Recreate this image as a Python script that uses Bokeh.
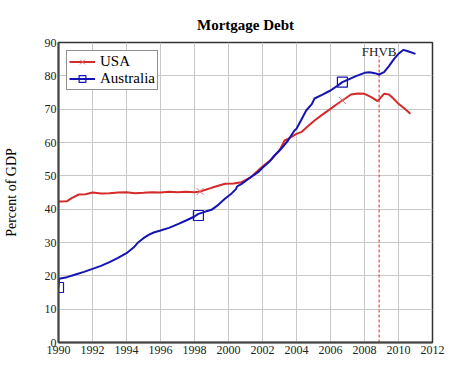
from bokeh.plotting import figure
from bokeh.models import Legend, LegendItem, Label, FixedTicker, Range1d
from bokeh.embed import file_html
from bokeh.resources import INLINE

# ---- data ----
aus_year = [1990.0, 1990.03, 1990.5, 1991.0, 1991.5, 1992.0, 1992.5, 1993.0, 1993.5,
            1994.0, 1994.4, 1994.7, 1995.0, 1995.3, 1995.6, 1996.0, 1996.5, 1997.06,
            1997.5, 1998.0, 1998.23, 1998.6, 1999.0, 1999.4, 1999.79, 2000.2, 2000.45,
            2000.5, 2000.77, 2001.2, 2001.74, 2002.0, 2002.4, 2002.7, 2003.1, 2003.5,
            2003.88, 2004.0, 2004.3, 2004.57, 2004.9, 2005.06, 2005.5, 2006.0, 2006.4,
            2006.7, 2007.0, 2007.5, 2008.0, 2008.3, 2008.6, 2008.86, 2009.15, 2009.45,
            2009.74, 2010.0, 2010.3, 2010.6, 2011.0]
aus_val = [16.5, 19.1, 19.6, 20.4, 21.2, 22.1, 23.0, 24.1, 25.4,
           26.8, 28.4, 30.1, 31.3, 32.3, 33.0, 33.6, 34.4, 35.6,
           36.6, 37.8, 38.6, 39.2, 39.8, 41.3, 43.1, 44.8, 46.1,
           46.8, 47.6, 49.2, 51.1, 52.4, 54.2, 56.1, 58.1, 60.6,
           63.6, 64.1, 67.0, 69.6, 71.5, 73.2, 74.3, 75.6, 77.0,
           78.1, 78.8, 79.9, 80.9, 81.1, 80.8, 80.4, 81.1, 83.0,
           85.1, 86.6, 87.8, 87.3, 86.6]

usa_year = [1990.0, 1990.5, 1990.8, 1991.2, 1991.6, 1992.0, 1992.5, 1993.0, 1993.5,
            1994.0, 1994.5, 1995.0, 1995.5, 1996.0, 1996.5, 1997.0, 1997.5, 1998.0,
            1998.33, 1999.0, 1999.8, 2000.3, 2000.77, 2001.3, 2001.74, 2002.0, 2002.5,
            2003.0, 2003.3, 2003.5, 2004.0, 2004.28, 2004.6, 2005.06, 2005.5, 2006.0,
            2006.35, 2006.7, 2007.2, 2007.6, 2008.0, 2008.4, 2008.77, 2009.15, 2009.44,
            2009.7, 2010.0, 2010.35, 2010.7]
usa_val = [42.3, 42.4, 43.4, 44.4, 44.5, 45.0, 44.7, 44.8, 45.0,
           45.1, 44.8, 44.9, 45.1, 45.0, 45.2, 45.1, 45.2, 45.1,
           45.3, 46.4, 47.6, 47.7, 48.1, 49.5, 51.6, 52.8, 54.8,
           57.6, 60.6, 61.1, 62.6, 63.1, 64.6, 66.6, 68.3, 70.1,
           71.4, 72.6, 74.4, 74.7, 74.6, 73.6, 72.4, 74.6, 74.4,
           73.2, 71.6, 70.2, 68.6]

usa_mark_year = [1998.33, 2006.7]
usa_mark_val = [45.3, 72.6]
aus_mark_year = [1990.0, 1998.23, 2006.7]
aus_mark_val = [16.5, 38.1, 78.1]

x_ticks = list(range(1990, 2013, 2))
y_ticks = list(range(0, 91, 10))

event_year = [2008.86]
event_label = "FHVB"
event_top = [86]

title_text = "Mortgage Debt"
y_label = "Percent of GDP"
series_names = ["USA", "Australia"]

RED = "#d42a2a"
BLUE = "#1414b4"
SERIF = "Liberation Serif"

p = figure(width=448, height=376, output_backend="svg", toolbar_location=None,
           x_range=Range1d(1990, 2012), y_range=Range1d(0, 90),
           min_border_left=56, min_border_right=16, min_border_top=42,
           min_border_bottom=34)

p.title.text = title_text
p.title.align = "center"
p.title.text_font = SERIF
p.title.text_font_size = "15px"
p.title.text_font_style = "bold"
p.title.text_color = "black"
p.title.standoff = 20

p.outline_line_color = "#333333"
p.outline_line_width = 1.5
p.background_fill_color = "white"
p.border_fill_color = "white"

for ax in (p.xaxis[0], p.yaxis[0]):
    ax.major_tick_out = 0
    ax.major_tick_in = 0
    ax.minor_tick_out = 0
    ax.minor_tick_in = 0
    ax.axis_line_color = "#444444"
    ax.axis_line_width = 2
    ax.major_label_text_font = SERIF
    ax.major_label_text_font_size = "12px"
    ax.major_label_text_color = "#222222"

p.xaxis[0].ticker = FixedTicker(ticks=x_ticks)
p.yaxis[0].ticker = FixedTicker(ticks=y_ticks)
p.xaxis[0].major_label_standoff = 3
p.yaxis[0].major_label_standoff = 2
p.yaxis[0].axis_label = y_label
p.yaxis[0].axis_label_text_font = SERIF
p.yaxis[0].axis_label_text_font_size = "14px"
p.yaxis[0].axis_label_text_font_style = "normal"
p.yaxis[0].axis_label_text_color = "black"
p.yaxis[0].axis_label_standoff = 23

p.xgrid.ticker = FixedTicker(ticks=x_ticks)
p.ygrid.ticker = FixedTicker(ticks=y_ticks)
p.grid.grid_line_color = "#c8c8c8"
p.grid.grid_line_width = 1

# event line
p.segment(x0=event_year, y0=[0], x1=event_year, y1=event_top,
          line_color=RED, line_width=1, line_dash="3 2")
p.add_layout(Label(x=event_year[0], y=90, text=event_label, text_align="center",
                   text_baseline="top", y_offset=-1, text_font=SERIF,
                   text_font_size="13px", text_color="#222222"))

usa_line = p.line(usa_year, usa_val, line_color=RED, line_width=2)
usa_mk = p.scatter(usa_mark_year, usa_mark_val, marker="x", size=10,
                   line_color="#e07070", line_width=1)
aus_line = p.line(aus_year, aus_val, line_color=BLUE, line_width=2)
aus_mk = p.scatter(aus_mark_year, aus_mark_val, marker="square", size=10,
                   line_color=BLUE, fill_color=None, line_width=1.2)

legend = Legend(items=[LegendItem(label=series_names[0], renderers=[usa_line, usa_mk]),
                       LegendItem(label=series_names[1], renderers=[aus_line, aus_mk])],
                location="top_left")
legend.margin = 8
legend.padding = 2
legend.spacing = 0
legend.glyph_width = 26
legend.glyph_height = 17
legend.label_height = 17
legend.label_standoff = 5
legend.label_text_font = SERIF
legend.label_text_font_size = "15px"
legend.label_text_color = "black"
legend.border_line_color = "#222222"
legend.border_line_width = 1.5
legend.background_fill_alpha = 1
p.add_layout(legend)

open("out.html", "w").write(file_html(p, INLINE))
